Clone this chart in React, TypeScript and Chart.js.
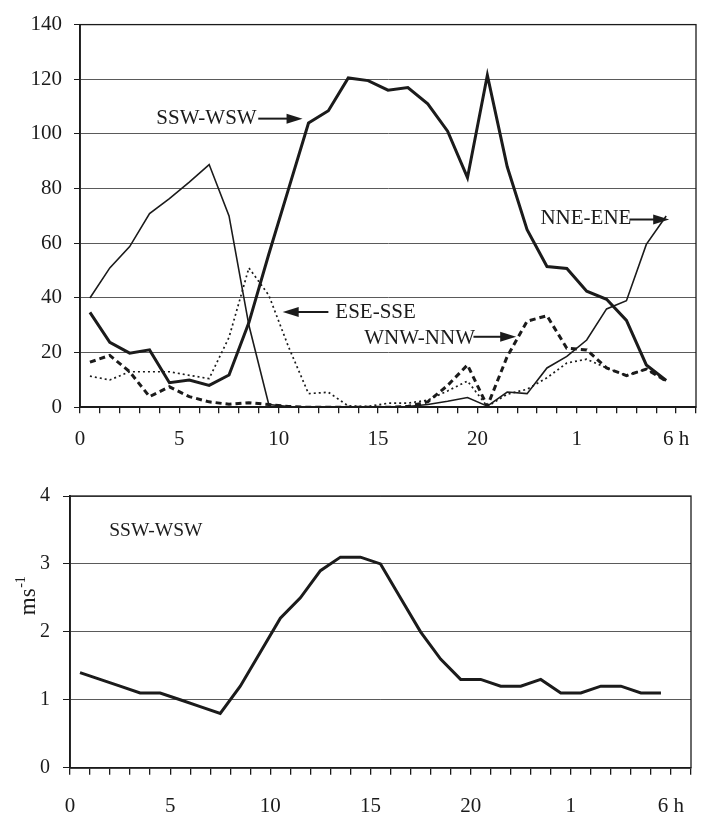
import React, { useEffect, useRef } from 'react';
import { Chart, registerables } from 'chart.js';

Chart.register(...registerables);

// hourly categories (0 h of day one to 5 h of the next day)
const hours = ['0','1','2','3','4','5','6','7','8','9','10','11','12','13','14','15','16','17','18','19','20','21','22','23','0','1','2','3','4','5'];

// top panel: frequency by wind direction sector
const sswWsw = [34.7, 23.8, 19.8, 21, 9, 10, 8, 11.8, 31, 56, 80, 104, 108.5, 120.5, 119.5, 116, 117, 111, 101, 84, 121.5, 88, 65, 51.5, 50.8, 42.5, 39.5, 31.8, 15.5, 9.8];
const nneEne = [40, 51, 58.8, 70.9, 76.3, 82.4, 88.8, 70, 30, 1, 0.3, 0.2, 0.2, 0.2, 0.2, 0.2, 0.3, 1, 2.2, 3.6, 0.4, 5.6, 5, 14.4, 18.6, 24.6, 36, 39, 59.6, 70];
const eseSse = [11.4, 10, 13, 13, 13, 11.7, 10.5, 25.6, 51, 41, 22, 5, 5.5, 0.5, 0.3, 1.5, 1.5, 2.6, 6, 9.6, 0.3, 4.8, 6.6, 10.8, 16.2, 17.6, 14.4, 11.6, 14, 9.6];
const wnwNnw = [16.5, 19, 13, 3.9, 7.5, 3.9, 2, 1.1, 1.7, 1, 0.3, 0, 0, 0, 0, 0, 0.3, 2, 8, 15.5, 0.4, 18.6, 31.5, 33.5, 21.6, 21, 14.4, 11.6, 14, 9.6];

// bottom panel: mean wind speed for SSW-WSW (m/s)
const speedSswWsw = [1.4, 1.3, 1.2, 1.1, 1.1, 1.0, 0.9, 0.8, 1.2, 1.7, 2.2, 2.5, 2.9, 3.1, 3.1, 3.0, 2.5, 2.0, 1.6, 1.3, 1.3, 1.2, 1.2, 1.3, 1.1, 1.1, 1.2, 1.2, 1.1, 1.1];

// axis tick labels at tick index
const xTickLabels: Record<number, string> = { 0: '0', 5: '5', 10: '10', 15: '15', 20: '20', 25: '1', 30: '6 h' };

const FONT = "'Liberation Serif', 'Times New Roman', serif";
const INK = '#1b1b1b';
const GRID = '#5a5a5a';

const toPoints = (vals: number[]) => vals.map((v, i) => ({ x: i + 0.5, y: v, h: hours[i] }));

type Note = { text: string; x: number; y: number; arrow?: { from: number; to: number; y: number } };

const topNotes: Note[] = [
  { text: 'SSW-WSW', x: 3.84, y: 105.8, arrow: { from: 8.97, to: 11.2, y: 105.6 } },
  { text: 'ESE-SSE', x: 12.85, y: 34.6, arrow: { from: 12.5, to: 10.2, y: 34.9 } },
  { text: 'WNW-NNW', x: 14.3, y: 25.0, arrow: { from: 19.8, to: 21.95, y: 25.8 } },
  { text: 'NNE-ENE', x: 23.17, y: 69.0, arrow: { from: 27.65, to: 29.65, y: 68.7 } },
];
const bottomNotes: Note[] = [{ text: 'SSW-WSW', x: 1.96, y: 3.48 }];

function drawArrow(ctx: CanvasRenderingContext2D, x1: number, x2: number, y: number) {
  const dir = x2 > x1 ? 1 : -1;
  const head = 16;
  const half = 5;
  ctx.beginPath();
  ctx.moveTo(x1, y);
  ctx.lineTo(x2 - dir * head + dir * 2, y);
  ctx.lineWidth = 2;
  ctx.strokeStyle = INK;
  ctx.stroke();
  ctx.beginPath();
  ctx.moveTo(x2, y);
  ctx.lineTo(x2 - dir * head, y - half);
  ctx.lineTo(x2 - dir * head, y + half);
  ctx.closePath();
  ctx.fillStyle = INK;
  ctx.fill();
}

const framePlugin = {
  id: 'frameAndNotes',
  afterDraw(chart: any, _args: any, opts: any) {
    const ctx: CanvasRenderingContext2D = chart.ctx;
    const { left, top, right, bottom } = chart.chartArea;
    const xs = chart.scales.x;
    const ys = chart.scales.y;
    ctx.save();
    ctx.strokeStyle = INK;
    ctx.lineWidth = 1.3;
    ctx.strokeRect(left, top, right - left, bottom - top);
    const notes: Note[] = opts.notes || [];
    ctx.font = `${opts.noteSize || 20}px ${FONT}`;
    ctx.fillStyle = INK;
    ctx.textAlign = 'left';
    ctx.textBaseline = 'middle';
    for (const n of notes) {
      ctx.fillStyle = INK;
      ctx.fillText(n.text, xs.getPixelForValue(n.x), ys.getPixelForValue(n.y));
      if (n.arrow) {
        drawArrow(ctx, xs.getPixelForValue(n.arrow.from), xs.getPixelForValue(n.arrow.to), ys.getPixelForValue(n.arrow.y));
      }
    }
    if (opts.yTitle) {
      const cy = (ys.getPixelForValue(2) + ys.getPixelForValue(3)) / 2 - 2;
      ctx.translate(opts.yTitleX, cy);
      ctx.rotate(-Math.PI / 2);
      ctx.textBaseline = 'alphabetic';
      ctx.font = `23px ${FONT}`;
      const w = ctx.measureText('ms').width;
      ctx.font = `14px ${FONT}`;
      const w2 = ctx.measureText('-1').width;
      const start = -(w + w2) / 2;
      ctx.font = `23px ${FONT}`;
      ctx.fillText('ms', start, 0);
      ctx.font = `14px ${FONT}`;
      ctx.fillText('-1', start + w + 0.5, -10);
    }
    ctx.restore();
  },
};

function xAxis(height: number, tickLen: number, pad: number) {
  return {
    type: 'linear' as const,
    min: 0,
    max: 31,
    afterFit: (s: any) => { s.height = height; },
    ticks: {
      stepSize: 1,
      autoSkip: false,
      maxRotation: 0,
      minRotation: 0,
      padding: pad,
      color: INK,
      font: { family: FONT, size: 21 },
      callback: (v: any) => (xTickLabels[Number(v)] ?? ''),
    },
    grid: { drawOnChartArea: false, drawTicks: true, tickLength: tickLen, color: INK, lineWidth: 1.3 },
    border: { display: true, color: INK, width: 1.8 },
  };
}

function yAxis(width: number, max: number, step: number, tickLen: number, pad: number, size: number) {
  return {
    min: 0,
    max,
    afterFit: (s: any) => { s.width = width; },
    ticks: { stepSize: step, padding: pad, color: INK, font: { family: FONT, size } },
    grid: { color: GRID, lineWidth: 1, tickLength: tickLen, tickColor: INK, drawTicks: true },
    border: { display: true, color: INK, width: 1.8 },
  };
}

export default function App() {
  const topRef = useRef<HTMLCanvasElement | null>(null);
  const botRef = useRef<HTMLCanvasElement | null>(null);

  useEffect(() => {
    const common = {
      responsive: false,
      animation: false as const,
      parsing: true,
      plugins: { legend: { display: false }, tooltip: { enabled: false } },
      elements: { point: { radius: 0 }, line: { tension: 0 } },
    };
    const top = new Chart(topRef.current!, {
      type: 'line',
      data: {
        datasets: [
          { label: 'NNE-ENE', data: toPoints(nneEne), borderColor: INK, borderWidth: 1.6, fill: false },
          { label: 'ESE-SSE', data: toPoints(eseSse), borderColor: INK, borderWidth: 1.7, borderDash: [2, 3], fill: false },
          { label: 'WNW-NNW', data: toPoints(wnwNnw), borderColor: INK, borderWidth: 3, borderDash: [6, 4], fill: false },
          { label: 'SSW-WSW', data: toPoints(sswWsw), borderColor: INK, borderWidth: 3, fill: false },
        ],
      },
      options: {
        ...common,
        layout: { padding: { top: 21, right: 7, left: 0, bottom: 0 } },
        scales: { x: xAxis(52.7, 6, 14), y: yAxis(80, 140, 20, 6, 12, 21) },
        plugins: { ...common.plugins, frameAndNotes: { notes: topNotes, noteSize: 21 } } as any,
      },
      plugins: [framePlugin],
    } as any);
    const bot = new Chart(botRef.current!, {
      type: 'line',
      data: {
        datasets: [
          { label: 'SSW-WSW', data: toPoints(speedSswWsw), borderColor: INK, borderWidth: 3, fill: false },
        ],
      },
      options: {
        ...common,
        layout: { padding: { top: 36, right: 7, left: 0, bottom: 0 } },
        scales: { x: xAxis(49.3, 7, 19), y: yAxis(70, 4, 1, 7, 13, 20) },
        plugins: { ...common.plugins, frameAndNotes: { notes: bottomNotes, noteSize: 19.5, yTitle: true, yTitleX: 35 } } as any,
      },
      plugins: [framePlugin],
    } as any);
    return () => { top.destroy(); bot.destroy(); };
  }, []);

  return (
    <div style={{ position: 'absolute', left: 0, top: 0, width: 710, height: 817, background: '#fff' }}>
      <canvas ref={topRef} width={710} height={460} style={{ position: 'absolute', left: 0, top: 0, width: 710, height: 460 }} />
      <canvas ref={botRef} width={710} height={357} style={{ position: 'absolute', left: 0, top: 460, width: 710, height: 357 }} />
    </div>
  );
}
